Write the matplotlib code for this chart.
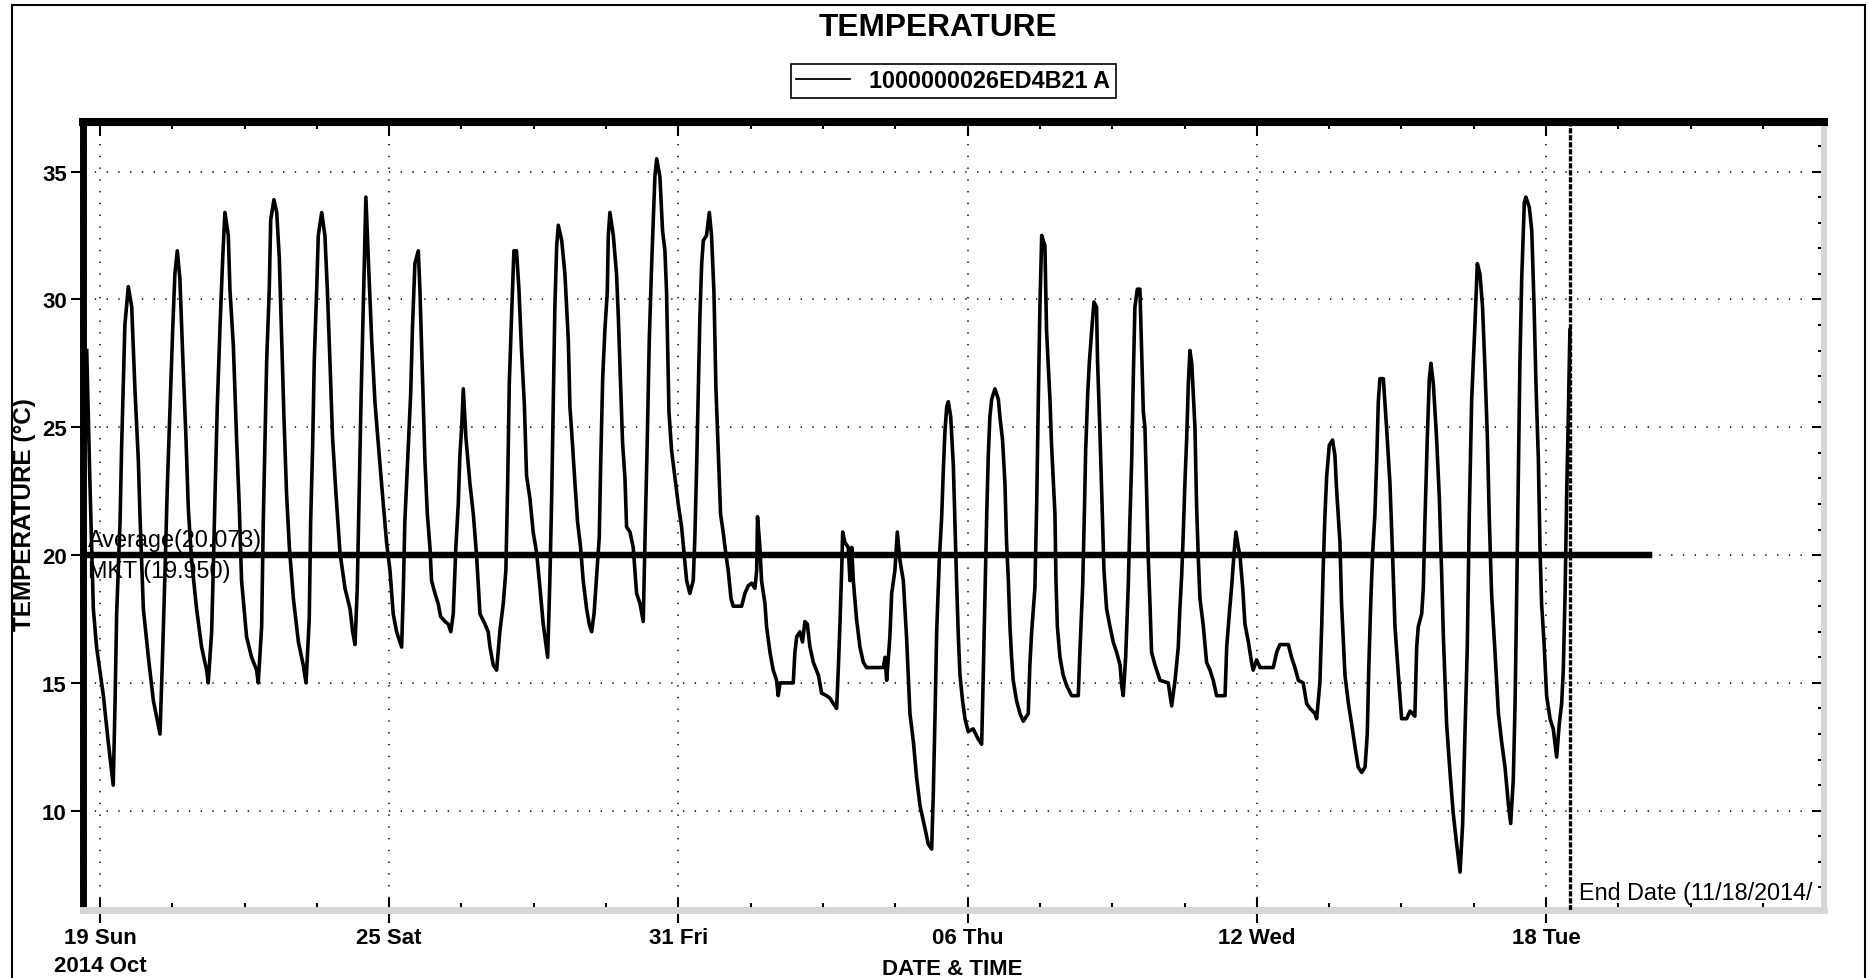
import matplotlib
matplotlib.use('Agg')
import matplotlib.pyplot as plt
import matplotlib.dates as mdates
from matplotlib.ticker import MultipleLocator
from matplotlib.patches import Rectangle
import pandas as pd

plt.rcParams['font.family'] = ['Liberation Sans', 'DejaVu Sans']

# logger readings: hours after 2014-10-19 00:00 and temperature (degC)
hours = [
    -6.6, -5.0, -3.3, -1.7, 1.7, 4.1, 6.6, 7.5, 8.3, 10.0,
    10.8, 11.6, 12.4, 14.1, 15.8, 17.4, 19.1, 19.9, 21.6, 24.1,
    26.6, 29.9, 31.2, 32.4, 33.5, 34.9, 36.2, 37.3, 38.5, 39.8,
    41.2, 42.8, 44.0, 45.6, 48.1, 50.6, 53.1, 53.9, 55.6, 56.4,
    57.3, 58.4, 59.8, 61.1, 62.2, 63.9, 64.7, 66.4, 68.0, 69.4,
    70.5, 73.0, 75.5, 78.0, 78.8, 80.5, 81.3, 82.2, 83.0, 84.3,
    85.0, 86.6, 88.0, 89.3, 90.5, 91.6, 92.9, 94.3, 96.3, 98.8,
    101.2, 102.6, 104.2, 104.9, 105.9, 106.7, 107.9, 108.7, 110.4, 112.0,
    113.2, 114.5, 115.8, 117.5, 119.5, 122.0, 124.5, 125.8, 127.0, 128.1,
    129.0, 130.0, 131.1, 132.0, 132.4, 133.6, 135.3, 136.9, 137.7, 140.2,
    142.7, 144.4, 146.0, 147.7, 150.2, 151.0, 151.8, 153.2, 154.0, 154.7,
    155.6, 156.8, 158.5, 159.3, 160.6, 161.8, 163.0, 164.3, 165.1, 166.8,
    168.4, 169.6, 171.8, 173.4, 174.7, 175.9, 177.2, 178.4, 179.2, 180.1,
    180.9, 182.2, 184.2, 185.9, 187.5, 189.2, 191.7, 193.3, 194.2, 195.8,
    197.5, 199.1, 200.8, 202.1, 203.0, 203.8, 205.0, 206.1, 207.4, 208.6,
    209.9, 211.3, 212.4, 214.1, 215.7, 217.4, 219.1, 220.7, 221.9, 222.9,
    224.0, 224.9, 225.7, 226.5, 227.4, 228.2, 229.9, 231.5, 233.2, 234.0,
    235.3, 236.5, 237.8, 239.3, 240.6, 242.3, 243.6, 244.8, 246.0, 247.3,
    248.6, 249.3, 250.3, 251.4, 252.6, 253.1, 253.9, 255.6, 257.2, 258.1,
    259.2, 260.2, 261.4, 262.2, 263.9, 265.5, 267.2, 268.9, 270.5, 271.4,
    272.5, 273.5, 274.7, 275.5, 276.3, 277.2, 278.8, 280.1, 281.3, 282.1,
    283.3, 284.6, 286.3, 287.9, 289.6, 290.8, 292.1, 293.7, 295.4, 296.2,
    297.1, 297.9, 298.7, 299.6, 300.4, 302.0, 303.4, 304.5, 305.7, 306.7,
    307.9, 309.0, 310.3, 311.7, 312.8, 314.2, 315.3, 319.5, 321.1, 322.8,
    324.5, 326.1, 327.0, 327.4, 328.6, 329.4, 331.1, 331.9, 333.6, 335.2,
    336.9, 337.7, 338.6, 345.2, 346.0, 346.9, 348.5, 349.8, 351.0, 352.2,
    353.5, 355.2, 357.7, 359.3, 361.8, 363.5, 365.1, 366.8, 367.6, 368.4,
    369.3, 369.8, 370.9, 372.6, 373.4, 374.3, 375.1, 376.7, 378.4, 380.1,
    381.7, 390.0, 390.9, 391.7, 393.3, 394.2, 395.8, 397.0, 398.3, 400.0,
    401.6, 403.3, 405.0, 406.6, 408.3, 410.8, 412.4, 414.1, 414.9, 415.8,
    416.6, 417.9, 419.1, 419.9, 420.7, 421.6, 422.4, 423.6, 424.9, 426.5,
    427.4, 428.2, 429.5, 430.7, 432.3, 434.8, 437.3, 439.0, 439.8, 440.6,
    441.5, 442.3, 443.1, 444.0, 445.6, 447.3, 448.1, 449.4, 450.6, 451.4,
    452.3, 453.1, 453.9, 454.7, 456.4, 458.1, 459.7, 462.2, 463.0, 463.9,
    465.5, 466.4, 467.2, 468.0, 468.9, 470.5, 471.3, 473.0, 473.8, 475.5,
    476.0, 476.7, 478.0, 479.6, 481.3, 483.8, 487.1, 487.9, 489.3, 490.1,
    490.8, 491.8, 492.6, 493.8, 494.9, 496.2, 496.7, 497.9, 499.2, 499.9,
    501.2, 502.9, 504.5, 506.2, 507.9, 508.7, 509.5, 510.7, 512.0, 512.8,
    513.7, 514.5, 515.3, 516.5, 517.8, 518.7, 519.5, 520.3, 521.1, 522.0,
    522.8, 523.6, 525.3, 527.8, 531.9, 533.6, 535.3, 536.9, 537.7, 538.6,
    539.4, 540.2, 541.1, 541.9, 542.7, 543.6, 545.2, 546.0, 546.9, 547.7,
    549.4, 551.0, 552.7, 554.3, 556.0, 560.2, 561.0, 562.3, 563.5, 564.6,
    565.6, 566.8, 567.6, 569.0, 570.1, 571.8, 573.4, 574.2, 575.9, 577.6,
    584.2, 585.9, 587.5, 591.7, 593.3, 595.0, 596.7, 599.1, 600.8, 602.5,
    605.0, 605.8, 607.4, 608.3, 609.1, 609.9, 610.8, 612.1, 613.7, 614.9,
    615.7, 617.4, 618.2, 619.9, 621.6, 623.2, 624.9, 626.5, 628.2, 629.9,
    631.0, 631.8, 632.8, 633.7, 634.8, 635.7, 636.5, 637.3, 639.0, 640.6,
    642.3, 643.6, 644.8, 646.5, 648.1, 650.6, 652.3, 654.7, 655.6, 656.4,
    658.1, 658.9, 659.7, 660.9, 661.9, 662.7, 663.9, 665.5, 666.9, 668.0,
    668.9, 670.5, 672.2, 673.8, 675.5, 677.2, 678.5, 679.7, 680.8, 681.8,
    683.0, 684.6, 685.8, 687.1, 688.4, 689.6, 690.8, 691.8, 692.9, 694.6,
    696.3, 697.9, 699.6, 701.2, 702.4, 703.7, 704.6, 705.4, 706.2, 707.0,
    707.9, 709.2, 710.0, 711.7, 712.9, 714.0, 715.0, 716.2, 717.0, 717.8,
    719.0, 720.3, 722.0, 723.6, 725.3, 726.6, 727.8, 728.6, 729.5, 730.3,
    731.1, 731.9,
]
temps = [
    28.0, 22.8, 17.9, 16.4, 14.5, 12.7, 11.0, 14.2, 17.7, 21.3,
    24.3, 26.7, 29.0, 30.5, 29.7, 26.5, 23.7, 21.6, 17.9, 16.0,
    14.3, 13.0, 16.2, 19.4, 22.6, 25.8, 28.8, 31.0, 31.9, 30.8,
    27.8, 24.6, 21.8, 19.8, 17.9, 16.4, 15.5, 15.0, 17.0, 19.4,
    22.4, 25.8, 29.0, 31.6, 33.4, 32.5, 30.4, 28.2, 24.6, 21.8,
    19.0, 16.8, 16.0, 15.5, 15.0, 17.2, 21.3, 24.6, 27.6, 30.4,
    33.1, 33.9, 33.4, 31.6, 28.4, 25.4, 22.4, 20.3, 18.3, 16.6,
    15.7, 15.0, 17.5, 21.3, 24.3, 27.6, 30.4, 32.5, 33.4, 32.5,
    30.4, 27.6, 24.6, 22.4, 20.1, 18.7, 17.9, 17.0, 16.5, 18.7,
    22.2, 26.1, 29.7, 32.7, 34.0, 31.6, 28.4, 26.0, 25.2, 22.8,
    20.5, 19.4, 17.7, 17.0, 16.4, 18.5, 21.3, 23.7, 25.0, 26.3,
    28.9, 31.4, 31.9, 30.4, 26.9, 23.7, 21.6, 20.3, 19.0, 18.5,
    18.1, 17.6, 17.4, 17.3, 17.0, 17.7, 20.3, 22.0, 23.9, 25.0,
    26.5, 24.6, 22.8, 21.6, 20.0, 17.7, 17.3, 17.0, 16.4, 15.7,
    15.5, 17.0, 18.1, 19.4, 22.8, 26.7, 29.5, 31.9, 31.9, 30.4,
    28.0, 25.9, 23.1, 22.2, 20.9, 20.1, 18.7, 17.3, 16.6, 16.0,
    19.0, 22.2, 25.9, 29.7, 32.1, 32.9, 32.3, 31.0, 28.4, 25.8,
    24.3, 22.8, 21.3, 20.3, 19.0, 17.9, 17.3, 17.0, 17.7, 19.2,
    20.7, 23.5, 26.9, 28.8, 30.3, 32.5, 33.4, 32.5, 31.0, 29.3,
    26.7, 24.4, 23.0, 21.1, 20.9, 20.3, 18.5, 18.1, 17.4, 20.7,
    24.5, 28.4, 31.4, 33.1, 34.8, 35.5, 34.8, 32.7, 31.9, 30.3,
    25.6, 24.1, 23.0, 22.0, 21.1, 20.1, 19.0, 18.5, 19.0, 20.7,
    23.5, 26.5, 29.3, 31.4, 32.3, 32.5, 33.4, 32.5, 30.3, 26.5,
    23.9, 21.6, 20.9, 20.0, 19.4, 18.3, 18.0, 18.0, 18.5, 18.8,
    18.9, 18.7, 19.4, 21.5, 20.3, 19.0, 18.1, 17.2, 16.2, 15.5,
    15.1, 14.5, 15.0, 15.0, 16.2, 16.8, 17.0, 16.6, 17.4, 17.3,
    16.4, 15.8, 15.3, 14.6, 14.5, 14.4, 14.2, 14.0, 15.5, 17.2,
    19.4, 20.9, 20.5, 20.3, 19.0, 20.3, 19.0, 17.5, 16.4, 15.8,
    15.6, 15.6, 16.0, 15.1, 16.8, 18.5, 19.4, 20.9, 19.8, 19.0,
    16.8, 13.8, 12.7, 11.3, 10.2, 9.3, 8.7, 8.5, 10.6, 13.8,
    17.0, 19.8, 21.5, 23.3, 24.8, 25.8, 26.0, 25.4, 23.5, 19.0,
    16.8, 15.3, 14.3, 13.6, 13.1, 13.2, 12.8, 12.6, 15.3, 18.3,
    21.5, 23.9, 25.4, 26.1, 26.5, 26.1, 25.4, 24.5, 22.8, 20.5,
    19.0, 17.2, 16.0, 15.1, 14.3, 13.8, 13.5, 13.8, 15.7, 17.0,
    18.7, 22.0, 26.0, 29.7, 32.5, 32.1, 28.8, 26.1, 24.3, 21.6,
    19.0, 17.2, 16.0, 15.3, 14.9, 14.5, 14.5, 16.2, 18.8, 21.5,
    24.1, 26.3, 27.5, 28.8, 29.9, 29.7, 27.6, 24.8, 21.3, 19.4,
    17.9, 17.2, 16.6, 16.2, 15.7, 14.9, 14.5, 16.0, 18.8, 21.3,
    23.7, 26.9, 29.7, 30.4, 30.4, 27.8, 25.6, 25.0, 22.6, 19.8,
    18.1, 16.2, 15.7, 15.1, 15.0, 14.1, 15.1, 16.4, 17.9, 19.2,
    20.9, 22.8, 24.6, 26.7, 28.0, 27.5, 25.0, 22.0, 19.8, 18.3,
    17.2, 15.8, 15.5, 15.1, 14.5, 14.5, 16.4, 17.7, 18.8, 20.0,
    20.9, 20.3, 20.0, 18.7, 17.3, 16.6, 15.8, 15.5, 15.9, 15.6,
    15.6, 16.2, 16.5, 16.5, 16.0, 15.6, 15.1, 15.0, 14.2, 14.0,
    13.8, 13.6, 15.0, 17.2, 19.6, 21.5, 23.1, 24.3, 24.5, 23.9,
    22.6, 20.5, 18.1, 15.3, 14.2, 13.4, 12.5, 11.7, 11.5, 11.7,
    13.0, 15.7, 18.3, 20.1, 21.6, 23.7, 26.0, 26.9, 26.9, 25.0,
    22.8, 20.0, 17.2, 15.3, 13.6, 13.6, 13.9, 13.7, 16.4, 17.2,
    17.7, 18.7, 21.3, 24.6, 26.9, 27.5, 26.7, 24.6, 22.2, 19.4,
    16.8, 13.4, 11.5, 9.9, 8.7, 7.6, 9.5, 13.2, 16.4, 21.6,
    26.1, 29.0, 31.4, 31.0, 29.7, 27.3, 24.6, 21.3, 18.5, 16.2,
    13.8, 12.7, 11.7, 10.3, 9.5, 11.2, 14.2, 18.5, 23.1, 27.5,
    30.8, 33.8, 34.0, 33.6, 32.7, 29.9, 26.7, 23.7, 20.3, 18.1,
    16.6, 14.5, 13.6, 13.2, 12.1, 13.4, 14.2, 15.5, 18.5, 22.4,
    25.4, 28.8,
]

series_name = '1000000026ED4B21 A'
start = pd.Timestamp('2014-10-19 00:00')
avg_temp = 20.073
mkt_temp = 19.950
end_hour = 732.0        # End Date marker
stat_end_hour = 772.0   # average / MKT lines stop here

tick_dates = ['2014-10-19', '2014-10-25', '2014-10-31',
              '2014-11-06', '2014-11-12', '2014-11-18']
tick_labels = ['19 Sun\n2014 Oct', '25 Sat', '31 Fri', '06 Thu', '12 Wed', '18 Tue']
y_ticks = [10, 15, 20, 25, 30, 35]

times = start + pd.to_timedelta(hours, unit='h')
end_time = start + pd.Timedelta(hours=end_hour)
stat_end = start + pd.Timedelta(hours=stat_end_hour)
tick_pos = pd.to_datetime(tick_dates)

fig = plt.figure(figsize=(18.69, 9.79), dpi=100)
ax = fig.add_axes([0.0444, 0.0690, 0.9314, 0.8054])

#temperature trace
ax.plot(times, temps, color='k', lw=2.6, zorder=3, label=series_name)

#average and MKT lines
ax.plot([times[0], stat_end], [avg_temp, avg_temp], color='k', lw=2.5, zorder=3)
ax.plot([times[0], stat_end], [mkt_temp, mkt_temp], color='k', lw=2.5, zorder=3)
ax.annotate('Average(%.3f)' % avg_temp, xy=(times[0], avg_temp), xytext=(1, 1.5),
            textcoords='offset points', ha='left', va='bottom', fontsize=16.8, zorder=4)
ax.annotate('MKT (%.3f)' % mkt_temp, xy=(times[0], mkt_temp), xytext=(1, -2),
            textcoords='offset points', ha='left', va='top', fontsize=16.8, zorder=4)

#end of logging
ax.axvline(end_time, color='k', lw=2.4, ls=(0, (1.6, 0.5)), zorder=3)
ax.annotate('End Date (11/18/2014/', xy=(end_time, 0), xycoords=('data', 'axes fraction'),
            xytext=(6.5, 8.3), textcoords='offset points', ha='left', va='baseline',
            fontsize=16.8, annotation_clip=False, clip_on=True)

ax.set_xlim(start - pd.Timedelta(hours=8.46), start + pd.Timedelta(hours=858.3))
ax.set_ylim(6.10, 36.94)

#axis ticks
ax.set_xticks(tick_pos, tick_labels, fontsize=16, fontweight='bold', linespacing=1.45)
ax.xaxis.set_minor_locator(MultipleLocator(1.5))
ax.set_yticks(y_ticks, [str(v) for v in y_ticks], fontsize=16, fontweight='bold')
ax.yaxis.set_minor_locator(MultipleLocator(1))
ax.tick_params(axis='x', which='major', direction='inout', length=18, width=1.5, pad=3)
ax.tick_params(axis='x', which='minor', direction='in', length=5, width=1.5)
ax.tick_params(axis='y', which='major', direction='out', length=8.6, width=1.5, pad=3)
ax.tick_params(axis='y', which='minor', direction='in', length=3, width=1.5)

#ticks on the top and right frame point inwards
top = ax.secondary_xaxis('top')
top.set_xticks(mdates.date2num(tick_pos))
top.xaxis.set_minor_locator(MultipleLocator(1.5))
top.tick_params(which='major', direction='in', length=10, width=1.5, labeltop=False)
top.tick_params(which='minor', direction='in', length=5, width=1.5)
right = ax.secondary_yaxis('right')
right.set_yticks(y_ticks)
right.yaxis.set_minor_locator(MultipleLocator(1))
right.tick_params(which='major', direction='in', length=8.6, width=1.5, labelright=False)
right.tick_params(which='minor', direction='in', length=4.3, width=1.5)
for s in list(top.spines.values()) + list(right.spines.values()):
    s.set_visible(False)

#dotted grid
ax.grid(True, which='major', color='k', lw=1.1, ls=(0, (0.9, 6.8)))

#frame: heavy black on left/top, grey shadow on right/bottom
ax.spines['left'].set_linewidth(5)
ax.spines['top'].set_linewidth(5.8)
ax.spines['right'].set_linewidth(4.3)
ax.spines['bottom'].set_linewidth(5)
ax.spines['right'].set_color('#d6d6d6')
ax.spines['bottom'].set_color('#d6d6d6')

#legend
leg = ax.legend(loc='center', bbox_to_anchor=(953 / 1869, 1 - 82 / 979),
                bbox_transform=fig.transFigure, frameon=True, fancybox=False,
                edgecolor='k', framealpha=1, prop={'weight': 'bold', 'size': 16.8},
                handlelength=2.3, handletextpad=0.8, borderpad=0.25, borderaxespad=0)
leg.get_frame().set_linewidth(1.2)
for ln in leg.get_lines():
    ln.set_linewidth(1.3)

#titles
fig.text(938 / 1869, 1 - 36 / 979, 'TEMPERATURE', ha='center', va='baseline',
         fontsize=22.8, fontweight='bold')
fig.text(24 / 1869, 1 - 515 / 979, 'TEMPERATURE (°C)', rotation=90, ha='center',
         va='center', fontsize=17.5, fontweight='bold')
fig.text(952 / 1869, 1 - 975 / 979, 'DATE & TIME', ha='center', va='baseline',
         fontsize=16, fontweight='bold')

#outer border
fig.add_artist(Rectangle((11.5 / 1869, -0.02), (1865 - 11.5) / 1869, 1.02 - 6 / 979,
                         transform=fig.transFigure, fill=False, lw=1.5, ec='k'))

fig.savefig('out.png', dpi=100)
